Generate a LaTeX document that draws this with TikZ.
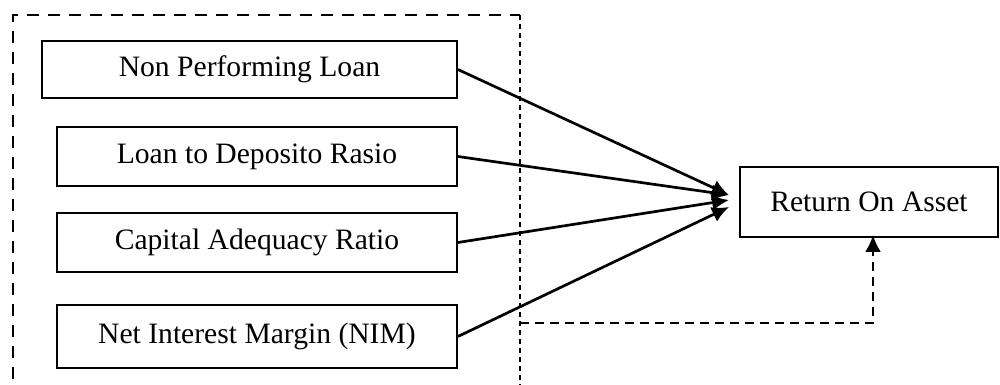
\documentclass[tikz,border=0pt]{standalone}
\usepackage{fontspec}
\setmainfont{Liberation Serif}
\usetikzlibrary{arrows.meta,positioning}

\begin{document}
\begin{tikzpicture}[x=0.5pt,y=-0.5pt,
	var/.style={draw,line width=0.9pt,inner sep=0pt,minimum width=200pt,minimum height=29.5pt,font=\fontsize{14.8}{17}\selectfont},
	link/.style={line width=1.35pt,-{Latex[length=8.5pt,width=8pt]}}]
			\useasboundingbox (0,0) rectangle (1000,385);
			\node[var, minimum width=207.5pt, minimum height=28.5pt] (npl) at (249.5,69.5) {Non Performing Loan};
			\node[var] (ldr) at (257,156.5) {Loan to Deposito Rasio};
			\node[var] (car) at (257,242.5) {Capital Adequacy Ratio};
			\node[var, minimum height=31.5pt] (nim) at (257,336.5) {Net Interest Margin (NIM)};
			\node[var, minimum width=129pt, minimum height=35pt] (roa) at (869,202) {Return On Asset};
			% dashed frame
			\draw[line width=1.1pt, dash pattern=on 6pt off 4.5pt] (13,400) -- (13,15) -- (520,15);
			\draw[line width=0.6pt, dash pattern=on 2.5pt off 2pt] (520,15) -- (520,400);
			\coordinate (in1) at (729,195);
			\coordinate (in2) at (729,200);
			\coordinate (in3) at (729,207);
			\coordinate (fr) at (520,323);
			\draw[link] (npl.east) -- (in1);
			\draw[link] (ldr.east) -- (in1);
			\draw[link] (car.east) -- (in2);
			\draw[link] (nim.east) -- (in3);
			\draw[link, dash pattern=on 4.5pt off 3pt] (fr) -| ([xshift=2pt,yshift=1.5pt]roa.south);
		\end{tikzpicture}
\end{document}
